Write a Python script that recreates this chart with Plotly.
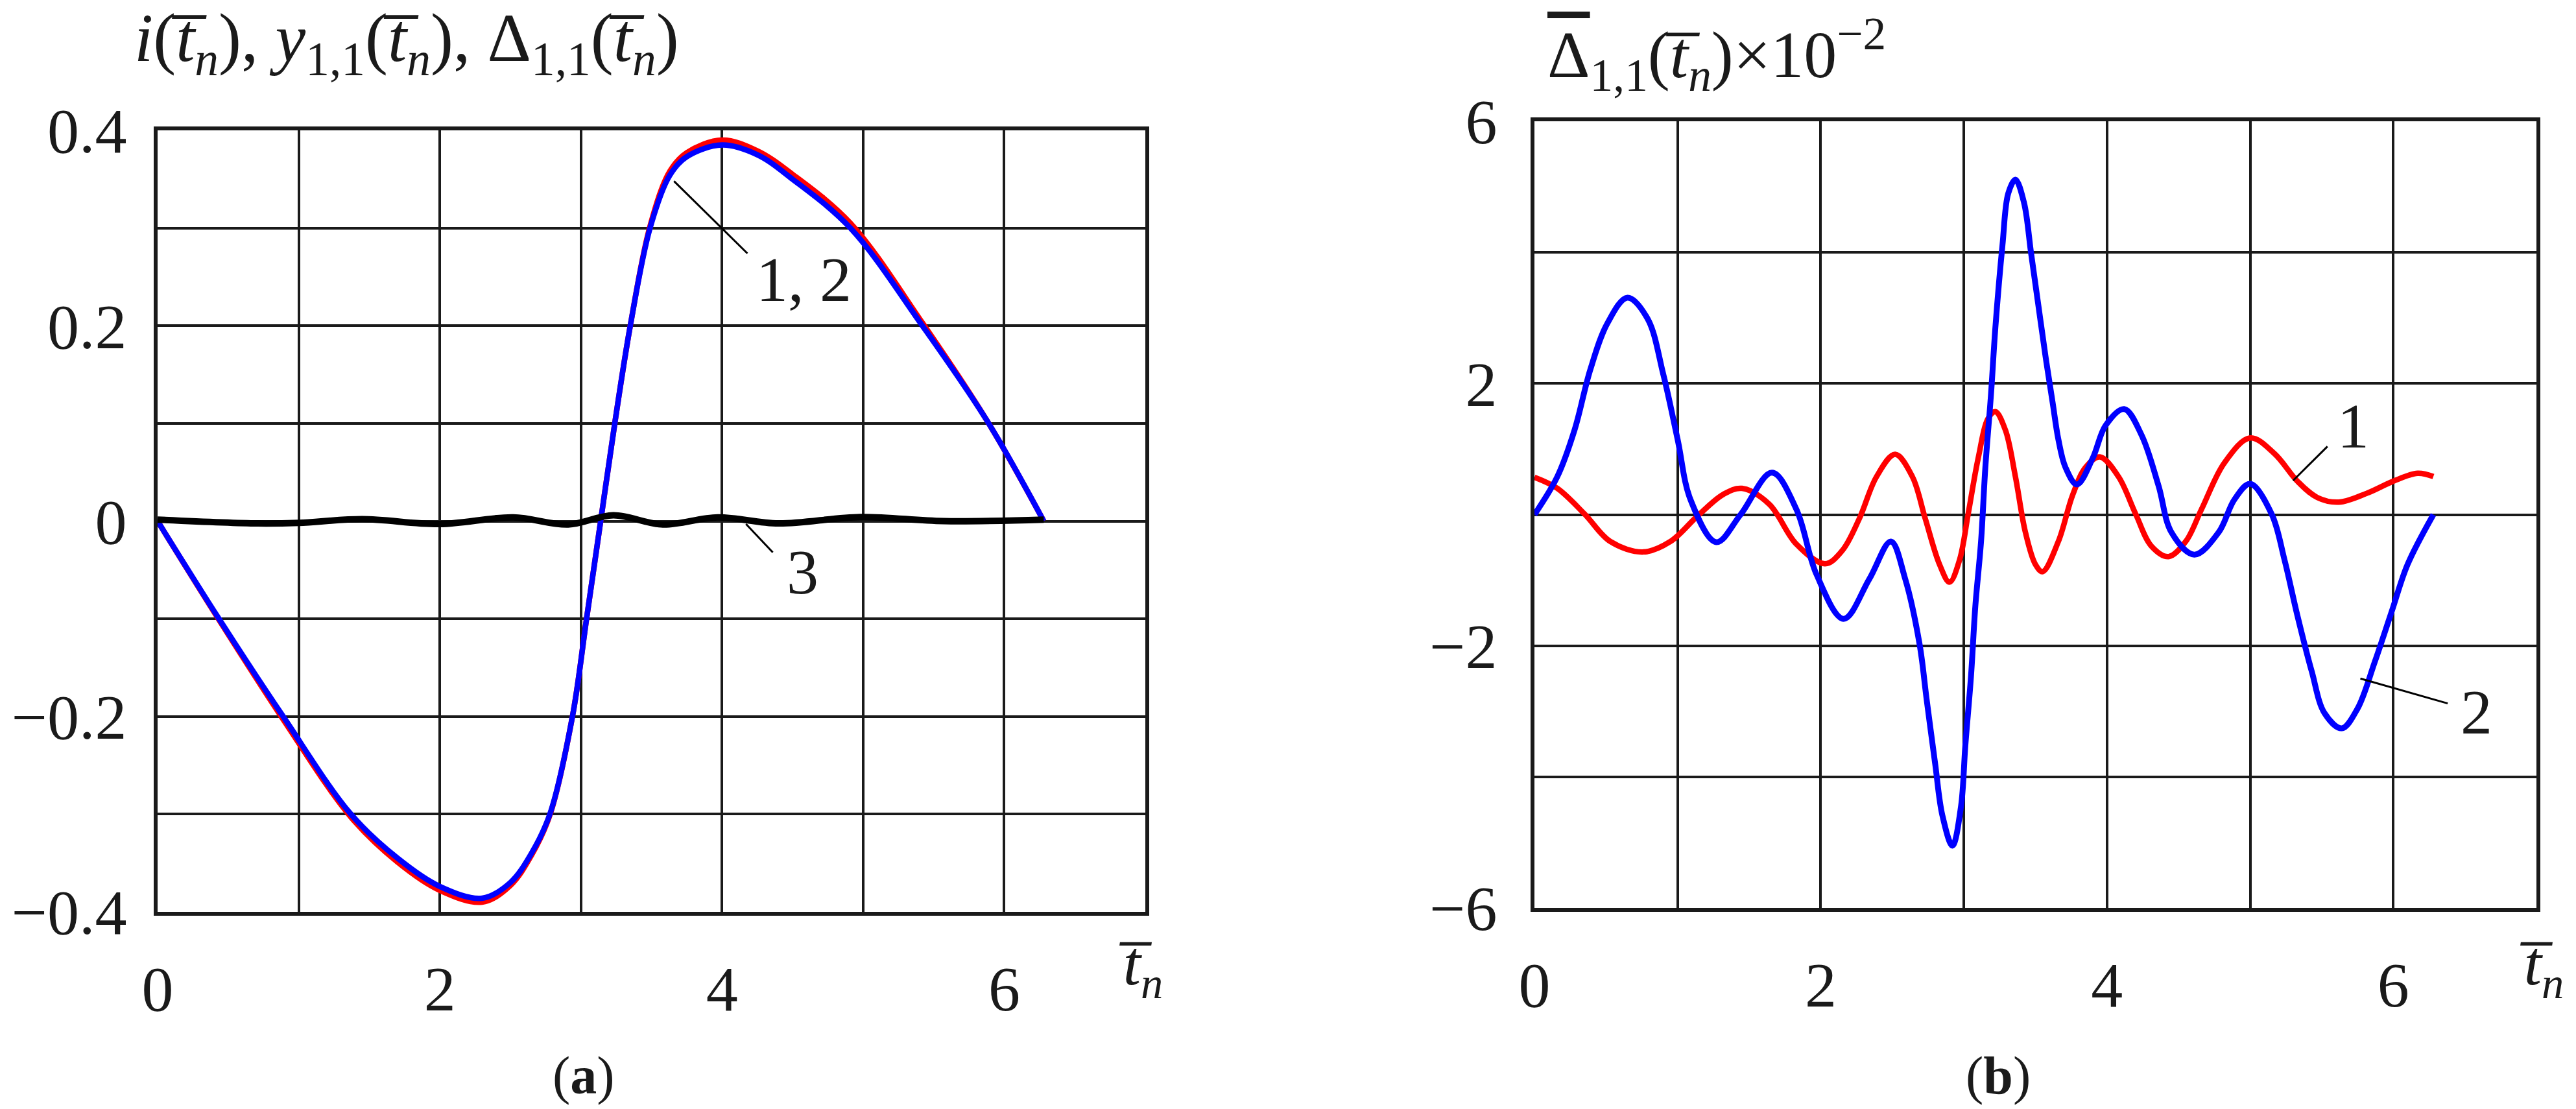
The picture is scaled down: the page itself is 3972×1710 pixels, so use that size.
import plotly.graph_objects as go

# ---------------- data: panel (a) ----------------
t_a = [0.0, 0.435, 0.89, 1.37, 1.7, 2.0, 2.3, 2.5, 2.65, 2.78, 2.94, 3.04, 3.14,
       3.24, 3.35, 3.49, 3.63, 3.75, 4.0, 4.25, 4.5, 4.91, 5.42, 5.89, 6.28]
i_a = [0.0, -0.101, -0.203, -0.303, -0.349, -0.378, -0.390, -0.373, -0.342, -0.301,
       -0.2, -0.1, 0.0, 0.1, 0.2, 0.302, 0.358, 0.377, 0.390, 0.379, 0.355, 0.305,
       0.203, 0.1, 0.0]
y_a = [0.0, -0.1, -0.2, -0.3, -0.345, -0.374, -0.386, -0.37, -0.34, -0.3,
       -0.2, -0.1, 0.0, 0.1, 0.2, 0.3, 0.354, 0.373, 0.385, 0.375, 0.35, 0.3,
       0.2, 0.1, 0.0]
t_a3 = [0.0, 0.71, 1.0, 1.45, 2.0, 2.52, 2.91, 3.23, 3.58, 3.97, 4.40, 4.98, 5.57, 6.28]
d_a3 = [0.0015, -0.0024, -0.0018, 0.002, -0.003, 0.0038, -0.0035, 0.006, -0.0035,
        0.0038, -0.0024, 0.0042, 0.0, 0.0015]

# ---------------- data: panel (b) ----------------
t_b1 = [0.0, 0.16, 0.35, 0.53, 0.76, 0.95, 1.14, 1.32, 1.45, 1.64, 1.83, 2.03, 2.15,
        2.27, 2.39, 2.52, 2.64, 2.73, 2.83, 2.90, 2.97, 3.03, 3.10, 3.17, 3.22, 3.29,
        3.36, 3.43, 3.50, 3.55, 3.66, 3.76, 3.85, 3.95, 4.08, 4.20, 4.31, 4.43, 4.55,
        4.66, 4.82, 5.00, 5.17, 5.33, 5.47, 5.62, 5.82, 6.00, 6.17, 6.28]
d_b1 = [0.57, 0.40, 0.01, -0.41, -0.57, -0.41, -0.02, 0.31, 0.40, 0.16, -0.45, -0.75,
        -0.55, -0.06, 0.58, 0.92, 0.58, -0.06, -0.76, -1.03, -0.69, 0.01, 0.86, 1.47,
        1.57, 1.29, 0.58, -0.27, -0.76, -0.87, -0.41, 0.30, 0.72, 0.88, 0.58, 0.01,
        -0.48, -0.64, -0.41, 0.08, 0.79, 1.17, 0.93, 0.51, 0.26, 0.19, 0.33, 0.51,
        0.63, 0.58]
t_b2 = [0.0, 0.16, 0.28, 0.39, 0.51, 0.65, 0.79, 0.90, 1.0, 1.09, 1.27, 1.44, 1.66,
        1.83, 1.97, 2.16, 2.34, 2.49, 2.59, 2.69, 2.74, 2.80, 2.85, 2.92, 2.98, 3.01,
        3.05, 3.08, 3.12, 3.15, 3.19, 3.22, 3.27, 3.31, 3.36, 3.42, 3.47, 3.52, 3.57,
        3.62, 3.66, 3.71, 3.79, 3.90, 3.99, 4.12, 4.24, 4.36, 4.45, 4.61, 4.78, 4.89,
        5.00, 5.15, 5.24, 5.33, 5.43, 5.52, 5.64, 5.75, 5.87, 5.99, 6.10, 6.28]
d_b2 = [0.0, 0.58, 1.29, 2.21, 2.92, 3.31, 2.99, 2.14, 1.15, 0.23, -0.42, 0.0, 0.64,
        0.08, -0.91, -1.59, -0.98, -0.41, -0.98, -1.97, -2.82, -3.81, -4.59, -5.05,
        -4.45, -3.53, -2.46, -1.40, -0.41, 0.72, 1.85, 2.85, 4.12, 4.90, 5.11, 4.76,
        3.98, 3.20, 2.42, 1.71, 1.15, 0.72, 0.46, 0.86, 1.36, 1.61, 1.22, 0.44, -0.27,
        -0.61, -0.27, 0.23, 0.47, 0.01, -0.69, -1.54, -2.39, -3.03, -3.26, -2.96,
        -2.25, -1.47, -0.76, 0.0]

# tick labels
xa_ticks = [0, 2, 4, 6]
xa_text = ["0", "2", "4", "6"]
ya_ticks = [-0.4, -0.2, 0, 0.2, 0.4]
ya_text = ["\u22120.4", "\u22120.2", "0", "0.2", "0.4"]
yb_ticks = [-6, -2, 2, 6]
yb_text = ["\u22126", "\u22122", "2", "6"]

# curve labels (text, t, value) and leader lines (t0, v0, t1, v1)
labels_a = [("1, 2", 4.58, 0.247), ("3", 4.57, -0.052)]
leaders_a = [(3.66, 0.348, 4.18, 0.274), (4.17, -0.003, 4.36, -0.032)]
labels_b = [("1", 5.72, 1.35), ("2", 6.58, -3.01)]
leaders_b = [(5.54, 1.04, 5.30, 0.52), (6.38, -2.88, 5.77, -2.50)]

RED = "#ff0000"
BLUE = "#0000ff"
INK = "#1a1a1a"
FONT = "Liberation Serif, Times New Roman, serif"
W, H = 3972, 1710

fig = go.Figure()

def line(x, y, color, width, xa, ya):
    fig.add_trace(go.Scatter(x=x, y=y, mode="lines", xaxis=xa, yaxis=ya,
                             line=dict(color=color, width=width, shape="spline", smoothing=1.0),
                             showlegend=False, hoverinfo="skip"))

line(t_a, i_a, RED, 8.5, "x", "y")
line(t_a, y_a, BLUE, 8.5, "x", "y")
line(t_a3, d_a3, "#000000", 10, "x", "y")
line(t_b1, d_b1, RED, 8.5, "x2", "y2")
line(t_b2, d_b2, BLUE, 9, "x2", "y2")

grid = dict(showgrid=True, gridcolor=INK, gridwidth=3.5)
common = dict(showline=True, mirror=True, linecolor=INK, linewidth=6, zeroline=False,
              automargin=False, ticks="", tickfont=dict(family=FONT, size=98, color=INK), **grid)

fig.update_layout(
    template="none",
    width=W, height=H, margin=dict(l=0, r=0, t=0, b=0, pad=0, autoexpand=False),
    paper_bgcolor="white", plot_bgcolor="white", font=dict(family=FONT, color=INK),
    xaxis=dict(domain=[243 / W, 1766 / W], range=[0, 7], tickvals=xa_ticks, ticktext=xa_text,
               minor=dict(dtick=1, **grid), ticklabelstandoff=28, anchor="y", **common),
    yaxis=dict(domain=[1 - 1406 / H, 1 - 201 / H], range=[-0.4, 0.4], tickvals=ya_ticks,
               ticktext=ya_text, minor=dict(dtick=0.1, **grid), ticklabelstandoff=22,
               anchor="x", **common),
    xaxis2=dict(domain=[2366 / W, 3911 / W], range=[0, 7], tickvals=xa_ticks, ticktext=xa_text,
                minor=dict(dtick=1, **grid), ticklabelstandoff=28, anchor="y2", **common),
    yaxis2=dict(domain=[1 - 1400 / H, 1 - 187 / H], range=[-6, 6], tickvals=yb_ticks,
                ticktext=yb_text, minor=dict(dtick=2, **grid), ticklabelstandoff=32,
                anchor="x2", **common),
)

ann = []
tb = "t\u0305"
ann.append(dict(xref="paper", yref="paper", x=205 / W, y=1 - 66 / H, xanchor="left", yanchor="middle",
                showarrow=False, font=dict(family=FONT, size=105, color=INK),
                text=f"<i>i</i>(<i>{tb}</i><sub><i>n</i></sub>), <i>y</i><sub>1,1</sub>(<i>{tb}</i><sub><i>n</i></sub>), \u0394<sub>1,1</sub>(<i>{tb}</i><sub><i>n</i></sub>)"))
ann.append(dict(xref="paper", yref="paper", x=2384 / W, y=1 - 83 / H, xanchor="left", yanchor="middle",
                showarrow=False, font=dict(family=FONT, size=102, color=INK),
                text=f"<span style='text-decoration:overline'>\u0394</span><sub>1,1</sub>(<i>{tb}</i><sub><i>n</i></sub>)\u00d710<sup>\u22122</sup>"))
for xp in (1724 / W, 3884 / W):
    ann.append(dict(xref="paper", yref="paper", x=xp, y=1 - 1492 / H, xanchor="left", yanchor="middle",
                    showarrow=False, font=dict(family=FONT, size=98, color=INK),
                    text=f"<i>{tb}</i><sub><i>n</i></sub>"))
ann.append(dict(xref="paper", yref="paper", x=900 / W, y=1 - 1658 / H, xanchor="center", yanchor="middle",
                showarrow=False, font=dict(family=FONT, size=82, color=INK), text="(<b>a</b>)"))
ann.append(dict(xref="paper", yref="paper", x=3081 / W, y=1 - 1658 / H, xanchor="center", yanchor="middle",
                showarrow=False, font=dict(family=FONT, size=82, color=INK), text="(<b>b</b>)"))
for txt, tx, vy in labels_a:
    ann.append(dict(xref="x", yref="y", x=tx, y=vy, showarrow=False, text=txt,
                    font=dict(family=FONT, size=98, color=INK)))
for txt, tx, vy in labels_b:
    ann.append(dict(xref="x2", yref="y2", x=tx, y=vy, showarrow=False, text=txt,
                    font=dict(family=FONT, size=98, color=INK)))
fig.update_layout(annotations=ann)

shapes = []
for x0, y0, x1, y1 in leaders_a:
    shapes.append(dict(type="line", xref="x", yref="y", x0=x0, y0=y0, x1=x1, y1=y1,
                       line=dict(color="#000000", width=3)))
for x0, y0, x1, y1 in leaders_b:
    shapes.append(dict(type="line", xref="x2", yref="y2", x0=x0, y0=y0, x1=x1, y1=y1,
                       line=dict(color="#000000", width=3)))
fig.update_layout(shapes=shapes)

fig.write_html("out.html", config={"displayModeBar": False},
               post_script="document.body.style.margin='0';document.body.style.overflow='hidden';")
